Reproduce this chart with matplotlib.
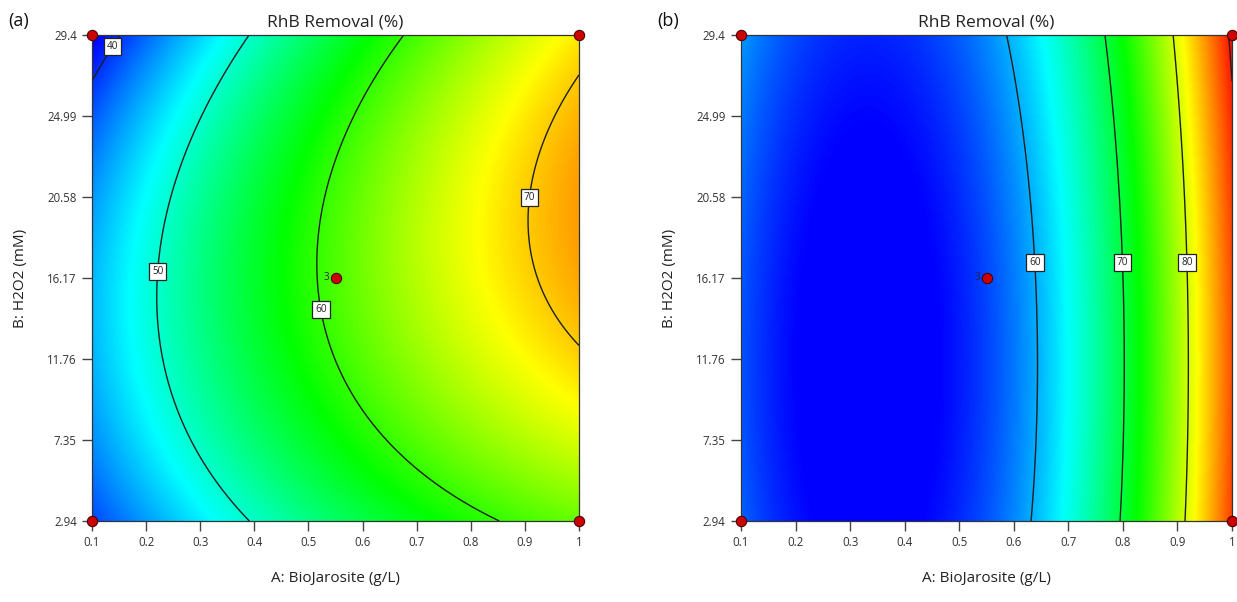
import matplotlib.pyplot as plt
import numpy as np
from matplotlib.colors import LinearSegmentedColormap

plt.rcParams['font.family'] = ['Open Sans', 'DejaVu Sans']

# factor ranges (actual units)
biojarosite_range = [0.1, 1.0]
h2o2_range = [2.94, 29.4]

x_ticks = [0.1, 0.2, 0.3, 0.4, 0.5, 0.6, 0.7, 0.8, 0.9, 1.0]
x_tick_labels = ['0.1', '0.2', '0.3', '0.4', '0.5', '0.6', '0.7', '0.8', '0.9', '1']
y_ticks = [2.94, 7.35, 11.76, 16.17, 20.58, 24.99, 29.4]
y_tick_labels = ['2.94', '7.35', '11.76', '16.17', '20.58', '24.99', '29.4']

# quadratic model, coded units: [b0, A, B, AB, A^2, B^2]
coef_a = [61.0, 13.07, 0.885, 2.48, -2.67, -6.03]
coef_b = [56.2, 15.77, 1.0, 0.0, 16.3, 1.4]

levels_a = [40, 50, 60, 70]
levels_b = [60, 70, 80, 90]
labels_b = [60, 70, 80]

# design points drawn on the plot
design_A = [0.1, 0.1, 1.0, 1.0, 0.55]
design_B = [2.94, 29.4, 2.94, 29.4, 16.17]
center_reps = 3


def surface(coef, A, B):
    a = (A - 0.55) / 0.45
    b = (B - 16.17) / 13.23
    return (coef[0] + coef[1]*a + coef[2]*b + coef[3]*a*b
            + coef[4]*a*a + coef[5]*b*b)


cmap = LinearSegmentedColormap.from_list(
    'de', ['#0000ff', '#00ffff', '#00ff00', '#ffff00', '#ff0000'])

fig = plt.figure(figsize=(12.37, 6.02), dpi=100)
ax1 = fig.add_axes([0.0744, 0.1346, 0.3937, 0.8073])
ax2 = fig.add_axes([0.599, 0.1346, 0.397, 0.8073])

Ag = np.linspace(biojarosite_range[0], biojarosite_range[1], 300)
Bg = np.linspace(h2o2_range[0], h2o2_range[1], 300)
AA, BB = np.meshgrid(Ag, Bg)

panels = [
    (ax1, coef_a, 38, 78, levels_a, levels_a,
     [(0.12, 29.1), (0.22, 16.5), (0.53, 14.5), (0.895, 20.58)], '(a)'),
    (ax2, coef_b, 53.5, 91, levels_b, labels_b,
     [(0.645, 17.0), (0.80, 17.0), (0.917, 17.0)], '(b)'),
]

for ax, coef, vmin, vmax, levels, lab_levels, lab_pos, tag in panels:
    Z = surface(coef, AA, BB)
    ax.imshow(Z, extent=[Ag[0], Ag[-1], Bg[0], Bg[-1]], origin='lower',
              aspect='auto', cmap=cmap, vmin=vmin, vmax=vmax,
              interpolation='bilinear')
    cs = ax.contour(AA, BB, Z, levels=levels, colors='#1e1e1e', linewidths=1.0)
    txts = ax.clabel(cs, levels=lab_levels, inline=False, fmt='%d',
                     fontsize=7.2, manual=lab_pos)
    for t in txts:
        t.set_bbox(dict(boxstyle='square,pad=0.3', fc='white', ec='#222222', lw=0.9))
        t.set_color('#222222')
        t.set_rotation(0)

    ax.scatter(design_A, design_B, s=55, c='#cc0000', edgecolors='#4a0000',
               linewidths=0.8, zorder=6, clip_on=False)
    ax.text(0.55 - 0.012, 16.17, str(center_reps), ha='right', va='center',
            fontsize=7, color='#222244', zorder=6)

    ax.set_xlim(biojarosite_range)
    ax.set_ylim(h2o2_range)
    ax.set_xticks(x_ticks)
    ax.set_xticklabels(x_tick_labels)
    ax.set_yticks(y_ticks)
    ax.set_yticklabels(y_tick_labels)
    ax.tick_params(direction='out', length=7, width=1.0, color='#444444',
                   labelsize=8.3, labelcolor='#333333', pad=4)
    for sp in ax.spines.values():
        sp.set_color('#333333')
        sp.set_linewidth(0.9)
    ax.set_xlabel('A: BioJarosite (g/L)', fontsize=11, color='#222222', labelpad=16)
    ax.set_ylabel('B: H2O2 (mM)', fontsize=11, color='#222222', labelpad=14)
    ax.set_title('RhB Removal (%)', fontsize=12.5, color='#222222', pad=6)
    bb = ax.get_position()
    fig.text(bb.x0 - 0.068, 0.965, tag, fontsize=13, color='#111111',
             ha='left', va='center')

fig.savefig('out.png', dpi=100)
